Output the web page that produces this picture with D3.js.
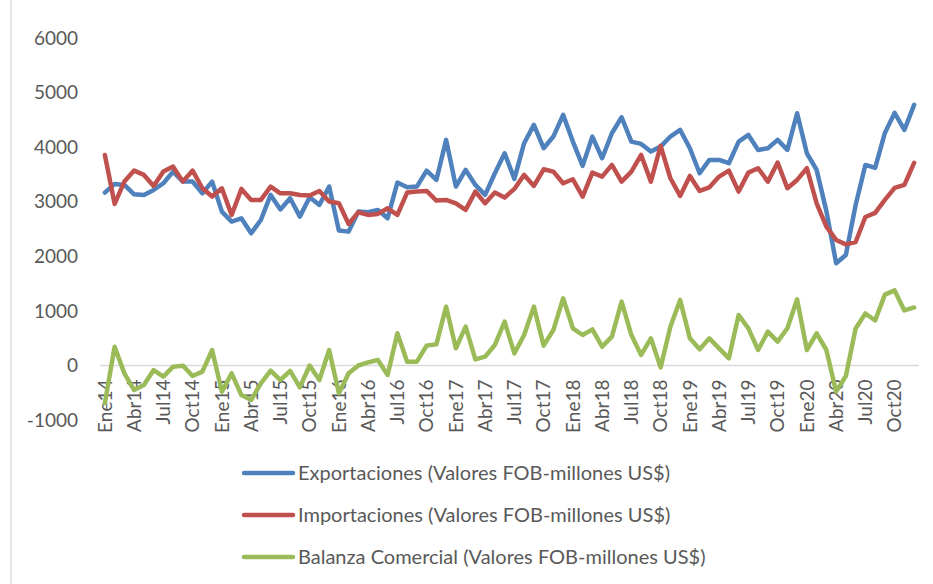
<!DOCTYPE html>
<html>
<head>
<meta charset="utf-8">
<script src="https://cdn.jsdelivr.net/npm/d3@7"></script>
<style>
  html, body { margin: 0; padding: 0; background: #fff; }
  svg { display: block; }
  text { font-family: Lato, "Open Sans", "Liberation Sans", sans-serif; fill: #595959; }
</style>
</head>
<body>
<svg id="chart" width="933" height="584"></svg>
<script>
// ---- data ----
const monthNames = ["Ene","Feb","Mar","Abr","May","Jun","Jul","Ago","Sep","Oct","Nov","Dic"];
const years = ["14","15","16","17","18","19","20"];
const categories = years.flatMap(y => monthNames.map(m => m + y));

const exportaciones = [
  3170,3329,3310,3139,3127,3219,3341,3555,3371,3371,3157,3371,
  2821,2638,2699,2424,2668,3127,2861,3066,2729,3084,2943,3280,
  2473,2454,2821,2809,2852,2699,3353,3267,3280,3573,3402,4136,
  3280,3586,3310,3127,3524,3891,3421,4075,4411,3983,4197,4594,
  4105,3659,4197,3800,4258,4551,4105,4062,3922,4013,4197,4319,
  3983,3524,3769,3769,3708,4105,4227,3952,3983,4136,3952,4624,
  3891,3586,2830,1876,2027,2943,3677,3622,4264,4631,4319,4778
];
const importaciones = [
  3860,2962,3371,3573,3494,3292,3555,3646,3371,3573,3249,3097,
  3249,2760,3237,3035,3035,3280,3157,3157,3127,3115,3200,3005,
  2974,2595,2809,2760,2779,2882,2760,3170,3188,3200,3023,3035,
  2974,2852,3188,2974,3170,3078,3237,3494,3292,3597,3555,3341,
  3414,3097,3536,3463,3677,3371,3555,3860,3371,4026,3432,3108,
  3475,3200,3267,3463,3573,3188,3536,3616,3371,3720,3249,3402,
  3616,2974,2546,2302,2220,2265,2723,2797,3035,3255,3310,3714
];
const balanza = [
  -688,345,-144,-449,-358,-83,-205,-21,-3,-193,-113,284,
  -480,-144,-541,-633,-327,-95,-266,-100,-400,0,-266,284,
  -510,-144,0,58,101,-174,591,70,70,364,388,1079,
  315,712,113,162,376,804,223,559,1079,364,651,1232,
  682,559,663,345,529,1171,559,193,498,-34,712,1202,
  498,296,498,315,131,926,682,284,621,437,682,1213,
  284,590,284,-480,-193,678,954,825,1300,1376,1009,1064
];
const yTicks = [-1000, 0, 1000, 2000, 3000, 4000, 5000, 6000];
const seriesNames = [
  "Exportaciones (Valores FOB-millones US$)",
  "Importaciones (Valores FOB-millones US$)",
  "Balanza Comercial (Valores FOB-millones US$)"
];
const seriesColors = ["#4F81BD", "#C0504D", "#9BBB59"];

// ---- layout ----
const svg = d3.select("#chart");
const plot = { left: 100, right: 919, top: 38.2, bottom: 420.05 };

const x = d3.scaleBand().domain(d3.range(categories.length)).range([plot.left, plot.right]).padding(0);
const cx = i => x(i) + x.bandwidth() / 2;
const y = d3.scaleLinear().domain([-1000, 6000]).range([plot.bottom, plot.top]);

// chart border (left edge)
svg.append("line").attr("x1", 11).attr("x2", 11).attr("y1", 0).attr("y2", 584)
  .attr("stroke", "#D9D9D9").attr("stroke-width", 1.3);

// y axis labels
const yAxis = d3.axisLeft(y).tickValues(yTicks).tickSize(0).tickPadding(0).tickFormat(d => String(d));
const yg = svg.append("g").attr("transform", "translate(78,0)").call(yAxis);
yg.select(".domain").remove();
yg.selectAll("text").attr("font-size", 19).attr("fill", "#595959")
  .style("font-family", "Lato, 'Open Sans', sans-serif");

// category axis line at zero
svg.append("line").attr("x1", plot.left).attr("x2", plot.right)
  .attr("y1", y(0)).attr("y2", y(0)).attr("stroke", "#D9D9D9").attr("stroke-width", 1.5);

// x labels (rotated)
const xAxis = d3.axisBottom(x)
  .tickValues(d3.range(categories.length).filter(i => i % 3 === 0))
  .tickFormat(i => categories[i]).tickSize(0);
const xg = svg.append("g").attr("transform", `translate(0,${y(0)})`).call(xAxis);
xg.select(".domain").remove();
xg.selectAll("text")
  .attr("font-size", 19).attr("fill", "#595959")
  .style("font-family", "Lato, 'Open Sans', sans-serif")
  .attr("text-anchor", "end")
  .attr("transform", "translate(0,14) rotate(-90)")
  .attr("x", 0).attr("y", 0).attr("dy", "0.35em");

// lines
const allSeries = [exportaciones, importaciones, balanza];
const line = d3.line().x((d, i) => cx(i)).y(d => y(d));
allSeries.forEach((s, k) => {
  svg.append("path").datum(s)
    .attr("d", line)
    .attr("fill", "none")
    .attr("stroke", seriesColors[k])
    .attr("stroke-width", 4.5)
    .attr("stroke-linejoin", "round")
    .attr("stroke-linecap", "round");
});

// legend
const legendY = [473, 515, 557];
seriesNames.forEach((name, k) => {
  const g = svg.append("g").attr("transform", `translate(0,${legendY[k]})`);
  g.append("line").attr("x1", 244).attr("x2", 293).attr("y1", 0).attr("y2", 0)
    .attr("stroke", seriesColors[k]).attr("stroke-width", 4.5).attr("stroke-linecap", "round");
  g.append("text").attr("x", 298).attr("y", 0).attr("dy", "0.35em")
    .attr("font-size", 20).text(name);
});
</script>
</body>
</html>
